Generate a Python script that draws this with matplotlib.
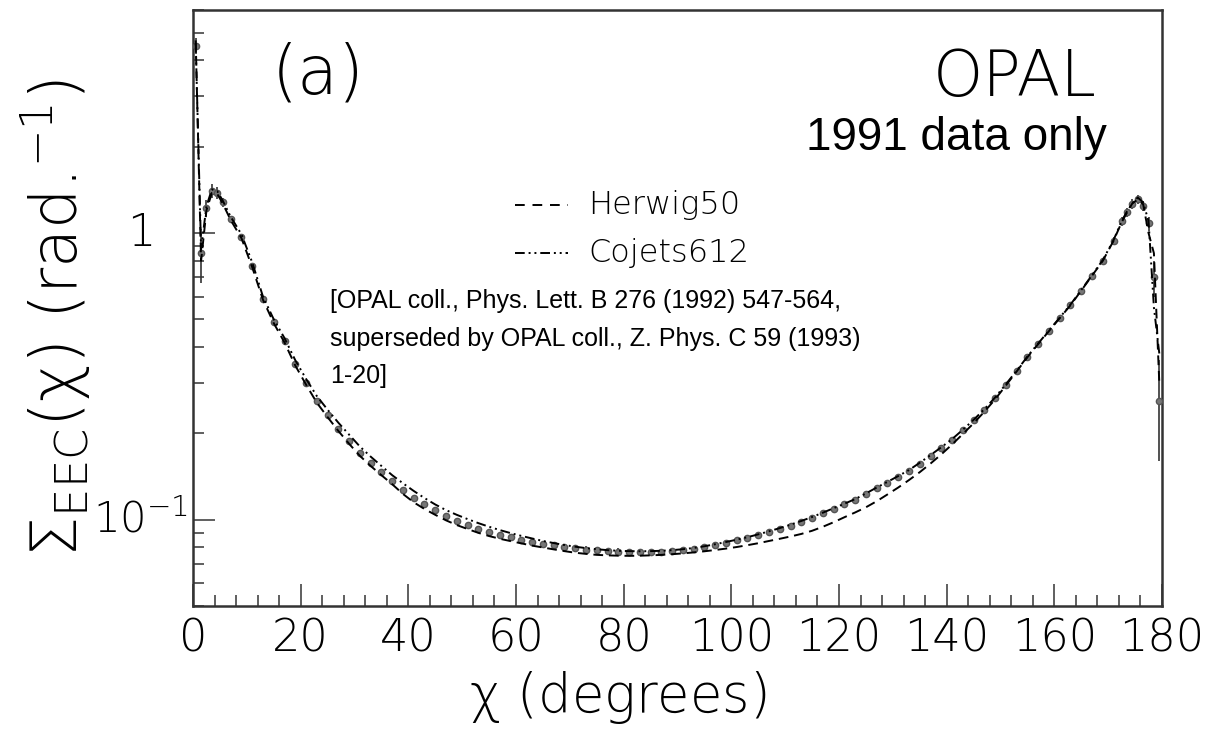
import matplotlib
matplotlib.use("Agg")
import matplotlib.pyplot as plt
from matplotlib.ticker import MultipleLocator, LogLocator, NullFormatter
import matplotlib.transforms as mtransforms

plt.rcParams['mathtext.fontset'] = 'custom'
plt.rcParams['mathtext.rm'] = 'DejaVu Sans:weight=light'
plt.rcParams['mathtext.it'] = 'DejaVu Sans:italic:weight=light'

# bin centres (degrees)
chi = [0.5, 1.5, 2.5, 3.5, 4.5, 5.5,
       7, 9, 11, 13, 15, 17, 19, 21, 23, 25,
       27, 29, 31, 33, 35, 37, 39, 41, 43, 45,
       47, 49, 51, 53, 55, 57, 59, 61, 63, 65,
       67, 69, 71, 73, 75, 77, 79, 81, 83, 85,
       87, 89, 91, 93, 95, 97, 99, 101, 103, 105,
       107, 109, 111, 113, 115, 117, 119, 121, 123, 125,
       127, 129, 131, 133, 135, 137, 139, 141, 143, 145,
       147, 149, 151, 153, 155, 157, 159, 161, 163, 165,
       167, 169, 171,
       172.5, 173.5, 174.5, 175.5, 176.5, 177.5, 178.5, 179.5]

data = [4.50, 0.85, 1.22, 1.40, 1.38, 1.28,
        1.12, 0.97, 0.77, 0.59, 0.49, 0.42, 0.35, 0.30, 0.26, 0.232,
        0.208, 0.188, 0.171, 0.158, 0.147, 0.137, 0.127, 0.119, 0.113, 0.108,
        0.103, 0.099, 0.096, 0.093, 0.0905, 0.0885, 0.0868, 0.0852, 0.0838, 0.0825,
        0.0813, 0.0803, 0.0794, 0.0787, 0.0781, 0.0777, 0.0774, 0.0772, 0.0771, 0.0771,
        0.0773, 0.0776, 0.0781, 0.0790, 0.0803, 0.0818, 0.0832, 0.0848, 0.0863, 0.0884,
        0.0906, 0.0929, 0.0954, 0.0982, 0.1016, 0.1052, 0.1092, 0.1130, 0.1170, 0.1225,
        0.1285, 0.1345, 0.1405, 0.148, 0.157, 0.167, 0.178, 0.190, 0.205, 0.222,
        0.242, 0.266, 0.296, 0.330, 0.370, 0.410, 0.455, 0.505, 0.560, 0.630,
        0.710, 0.800, 0.940,
        1.10, 1.18, 1.26, 1.31, 1.24, 1.08, 0.70, 0.26]

data_err = [0.30, 0.18, 0.08, 0.08, 0.07, 0.05,
            0.03, 0.02, 0.015, 0.01, 0.008, 0.006, 0.005, 0.004, 0.004, 0.003,
            0.003, 0.003, 0.002, 0.002, 0.002, 0.002, 0.002, 0.002, 0.002, 0.002,
            0.002, 0.002, 0.002, 0.002, 0.002, 0.002, 0.002, 0.002, 0.002, 0.002,
            0.002, 0.002, 0.002, 0.002, 0.002, 0.002, 0.002, 0.002, 0.002, 0.002,
            0.002, 0.002, 0.002, 0.002, 0.002, 0.002, 0.002, 0.002, 0.002, 0.002,
            0.002, 0.002, 0.002, 0.002, 0.002, 0.002, 0.002, 0.002, 0.002, 0.002,
            0.002, 0.002, 0.002, 0.002, 0.003, 0.003, 0.003, 0.003, 0.004, 0.004,
            0.004, 0.005, 0.005, 0.006, 0.007, 0.008, 0.009, 0.010, 0.012, 0.014,
            0.016, 0.02, 0.03,
            0.04, 0.04, 0.05, 0.05, 0.05, 0.06, 0.10, 0.10]

herwig = [4.70, 0.80, 1.20, 1.38, 1.37, 1.27,
          1.11, 0.96, 0.76, 0.585, 0.485, 0.415, 0.345, 0.296, 0.256, 0.228,
          0.204, 0.184, 0.167, 0.154, 0.143, 0.133, 0.123, 0.115, 0.109, 0.104,
          0.0995, 0.0958, 0.0928, 0.0900, 0.0877, 0.0858, 0.0842, 0.0827, 0.0812, 0.0800,
          0.0788, 0.0777, 0.0767, 0.0760, 0.0754, 0.0751, 0.0749, 0.0748, 0.0749, 0.0751,
          0.0754, 0.0758, 0.0763, 0.0769, 0.0776, 0.0784, 0.0793, 0.0803, 0.0815, 0.0828,
          0.0843, 0.0858, 0.0874, 0.0892, 0.0915, 0.0945, 0.0980, 0.1020, 0.1060, 0.1105,
          0.1160, 0.1225, 0.1295, 0.1375, 0.1465, 0.1570, 0.1690, 0.1830, 0.1990, 0.2170,
          0.2380, 0.2630, 0.2940, 0.3290, 0.3690, 0.4100, 0.4550, 0.5050, 0.5600, 0.6300,
          0.7100, 0.8000, 0.9400,
          1.09, 1.18, 1.27, 1.31, 1.26, 1.00, 0.85, 0.30]

cojets = [4.60, 0.88, 1.24, 1.42, 1.40, 1.30,
          1.14, 0.99, 0.79, 0.60, 0.50, 0.43, 0.36, 0.31, 0.27, 0.242,
          0.218, 0.198, 0.180, 0.166, 0.154, 0.143, 0.134, 0.126, 0.119, 0.113,
          0.108, 0.104, 0.1005, 0.0973, 0.0945, 0.0920, 0.0898, 0.0878, 0.0860, 0.0843,
          0.0829, 0.0816, 0.0805, 0.0796, 0.0789, 0.0783, 0.0779, 0.0777, 0.0776, 0.0777,
          0.0779, 0.0783, 0.0789, 0.0797, 0.0808, 0.0821, 0.0836, 0.0852, 0.0869, 0.0889,
          0.0911, 0.0935, 0.0961, 0.0990, 0.1022, 0.1058, 0.1097, 0.1137, 0.1180, 0.1235,
          0.1295, 0.1355, 0.1420, 0.149, 0.158, 0.168, 0.179, 0.191, 0.206, 0.223,
          0.243, 0.267, 0.297, 0.331, 0.371, 0.412, 0.457, 0.507, 0.563, 0.633,
          0.713, 0.805, 0.945,
          1.10, 1.19, 1.27, 1.33, 1.28, 1.10, 0.55, 0.38]

xticks = [0, 20, 40, 60, 80, 100, 120, 140, 160, 180]

thin = 'DejaVu Sans'
W, H = 1206, 733

fig = plt.figure(figsize=(12.06, 7.33), dpi=100)
ax = fig.add_axes([193 / W, 1 - 606 / H, 969 / W, 596 / H])

ax.errorbar(chi, data, yerr=data_err, fmt='o', ms=4.5, color='#777777',
            mec='#555555', ecolor='#333333', elinewidth=1.2, capsize=0, zorder=3)
ax.plot(chi, herwig, ls=(0, (5, 3)), color='black', lw=1.4, zorder=4)
ax.plot(chi, cojets, ls=(0, (5, 2, 1, 2, 1, 2)), color='black', lw=1.4, zorder=4)

ax.set_yscale('log')
ax.set_xlim(0, 180)
ax.set_ylim(0.05, 6.0)

ax.set_xticks(xticks)
ax.set_xticklabels([str(t) for t in xticks], fontsize=32, fontfamily=thin, fontweight='light')
ax.xaxis.set_minor_locator(MultipleLocator(4))
ax.yaxis.set_major_locator(LogLocator(base=10, numticks=10))
ax.yaxis.set_minor_locator(LogLocator(base=10, subs=range(2, 10), numticks=20))
ax.yaxis.set_major_formatter(NullFormatter())
ax.yaxis.set_minor_formatter(NullFormatter())
ax.tick_params(which='both', direction='in', top=False, right=False, width=1.2, color='#444444')
ax.tick_params(which='major', length=16, pad=8)
ax.tick_params(which='minor', length=8)
for s in ax.spines.values():
    s.set_linewidth(1.8)
    s.set_color('#333333')

# y tick labels placed by hand (ROOT style)
tr = mtransforms.blended_transform_factory(fig.transFigure, ax.transData)
fig.text(155 / W, 1.0, '1', transform=tr, ha='right', va='center', fontsize=32,
         fontfamily=thin, fontweight='light')
fig.text(188 / W, 0.1, r'$\mathregular{10^{-1}}$', transform=tr, ha='right', va='center',
         fontsize=30, fontfamily=thin, fontweight='light')

fig.text(618 / W, 1 - 697 / H, r'$\mathrm{\chi}$ (degrees)', ha='center', va='center',
         fontsize=38, fontfamily=thin, fontweight='light')
fig.text(56 / W, 1 - 318 / H,
         r'$\Sigma_{\mathrm{EEC}}(\mathrm{\chi})$ (rad.$^{\mathrm{-1}}$)',
         rotation=90, ha='center', va='center', fontsize=46, fontfamily=thin, fontweight='light')

fig.text(318 / W, 1 - 75 / H, '(a)', ha='center', va='center', fontsize=48,
         fontfamily=thin, fontweight='light')
fig.text(1015 / W, 1 - 78 / H, 'OPAL', ha='center', va='center', fontsize=46,
         fontfamily=thin, fontweight='light')
fig.text(956 / W, 1 - 138 / H, '1991 data only', ha='center', va='center', fontsize=33,
         fontfamily='Liberation Sans')

# legend drawn ROOT-like: short line samples plus labels
fig.lines.append(plt.Line2D([515 / W, 568 / W], [1 - 205 / H] * 2, transform=fig.transFigure,
                            color='black', lw=1.4, ls=(0, (5, 4))))
fig.lines.append(plt.Line2D([515 / W, 568 / W], [1 - 253 / H] * 2, transform=fig.transFigure,
                            color='black', lw=1.4, ls=(0, (5, 2, 1, 2, 1, 2))))
fig.text(588 / W, 1 - 205 / H, 'Herwig50', ha='left', va='center', fontsize=23,
         fontfamily=thin, fontweight='light')
fig.text(588 / W, 1 - 253 / H, 'Cojets612', ha='left', va='center', fontsize=23,
         fontfamily=thin, fontweight='light')

fig.text(330 / W, 1 - 289 / H,
         '[OPAL coll., Phys. Lett. B 276 (1992) 547-564,\n'
         'superseded by OPAL coll., Z. Phys. C 59 (1993)\n'
         '1-20]',
         ha='left', va='top', fontsize=18, fontfamily='Liberation Sans', linespacing=1.72)

fig.savefig('out.png', dpi=100)
